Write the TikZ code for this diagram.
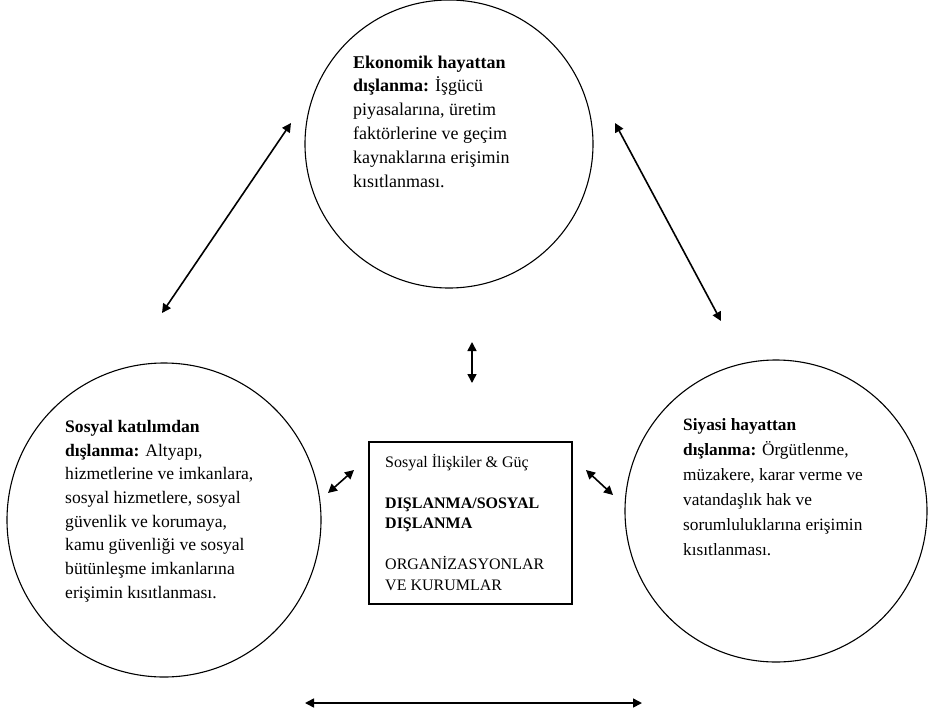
\documentclass[tikz,border=0pt]{standalone}
\usepackage{fontspec}
\setmainfont{Liberation Serif}
\usetikzlibrary{arrows.meta}
\begin{document}
\begin{tikzpicture}[x=1pt,y=-1pt,
  ring/.style={circle,draw,line width=1.1pt,inner sep=0pt},
  frame/.style={rectangle,draw,line width=1.1pt,inner sep=0pt},
  bodytext/.style={anchor=north west,inner sep=0pt,align=left},
  boxtext/.style={anchor=north west,inner sep=0pt,align=left,font=\fontsize{16}{20.5}\selectfont},
  link/.style={line width=1.6pt,{Triangle[length=9pt,width=9pt]}-{Triangle[length=9pt,width=9pt]}}]
\useasboundingbox (0,0) rectangle (929,718);
\fill[white] (0,0) rectangle (929,718);
% circles
\node[ring,minimum size=288pt] (eco) at (449,144) {};
\node[ring,minimum size=314pt] (soc) at (164,520) {};
\node[ring,minimum size=302pt] (pol) at (776,511) {};
\node[frame,minimum width=203pt,minimum height=162pt] (box) at (470.5,523) {};
% texts
\node[bodytext,font=\fontsize{18}{23.8}\selectfont] (ecot) at (353,55.5) {\textbf{Ekonomik hayattan}\\ \textbf{dışlanma:} İşgücü\\ piyasalarına, üretim\\ faktörlerine ve geçim\\ kaynaklarına erişimin\\ kısıtlanması.};
\node[bodytext,font=\fontsize{17.6}{23.7}\selectfont] (soct) at (65,420) {\textbf{Sosyal katılımdan}\\ \textbf{dışlanma:} Altyapı,\\ hizmetlerine ve imkanlara,\\ sosyal hizmetlere, sosyal\\ güvenlik ve korumaya,\\ kamu güvenliği ve sosyal\\ bütünleşme imkanlarına\\ erişimin kısıtlanması.};
\node[bodytext,font=\fontsize{17.3}{25}\selectfont] (polt) at (683,418) {\textbf{Siyasi hayattan}\\ \textbf{dışlanma:} Örgütlenme,\\ müzakere, karar verme ve\\ vatandaşlık hak ve\\ sorumluluklarına erişimin\\ kısıtlanması.};
\node[boxtext] (boxt) at (385,454) {Sosyal İlişkiler \& Güç\\[20.5pt] \textbf{DIŞLANMA/SOSYAL}\\ \textbf{DIŞLANMA}\\[20.5pt] ORGANİZASYONLAR\\ VE KURUMLAR};
% arrow end points
\coordinate (tl1) at (162,313); \coordinate (tl2) at (291,123);
\coordinate (tr1) at (615,123); \coordinate (tr2) at (721,321);
\coordinate (v1) at (472,342); \coordinate (v2) at (472,383);
\coordinate (l1) at (328,493); \coordinate (l2) at (354,470);
\coordinate (r1) at (586,470); \coordinate (r2) at (613,495);
\coordinate (b1) at (305,703); \coordinate (b2) at (642,703);
\draw[link] (tl1) -- (tl2);
\draw[link] (tr1) -- (tr2);
\draw[link] (v1) -- (v2);
\draw[link] (l1) -- (l2);
\draw[link] (r1) -- (r2);
\draw[link] (b1) -- (b2);
\end{tikzpicture}
\end{document}
